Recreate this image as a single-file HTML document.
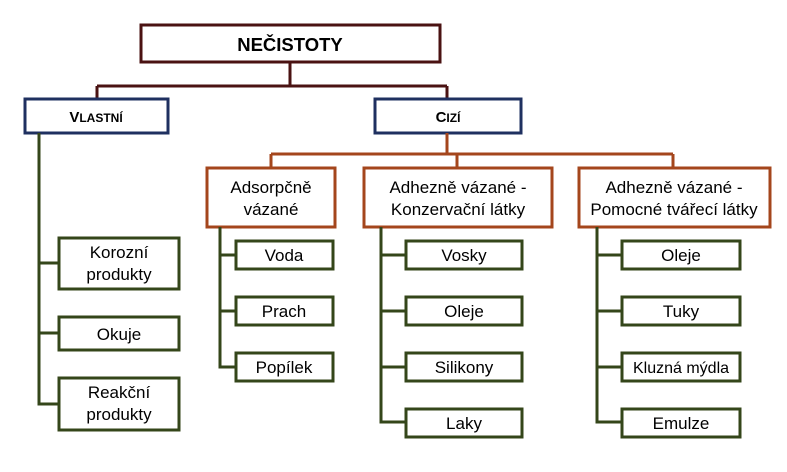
<!DOCTYPE html>
<html><head><meta charset="utf-8"><style>
html,body{margin:0;padding:0;background:#fff;}
svg{display:block;}
text{font-family:"Liberation Sans",sans-serif;fill:#000;text-anchor:middle;}
</style></head><body>
<svg width="787" height="472" viewBox="0 0 787 472">
<g fill="none" stroke-linejoin="miter">
<path d="M290 62 V86 M97 86 H447 M97 86 V98 M447 86 V98" stroke="#4a1212" stroke-width="3"/>
<rect x="141" y="25" width="299" height="37" fill="#fff" stroke="#4a1212" stroke-width="3"/>
<rect x="25" y="99" width="143" height="34" fill="#fff" stroke="#1f3060" stroke-width="3"/>
<rect x="375" y="99" width="146" height="34" fill="#fff" stroke="#1f3060" stroke-width="3"/>
<path d="M447 133 V154 M271 154 H673 M271 154 V168 M457 154 V168 M673 154 V168" stroke="#a4461c" stroke-width="3"/>
<rect x="207" y="168" width="128" height="59" fill="#fff" stroke="#a4461c" stroke-width="3"/>
<rect x="364" y="168" width="188" height="59" fill="#fff" stroke="#a4461c" stroke-width="3"/>
<rect x="579" y="168" width="191" height="59" fill="#fff" stroke="#a4461c" stroke-width="3"/>
<g stroke="#34461a" stroke-width="3">
<path d="M39 133 V404 H59 M39 263 H59 M39 333 H59"/>
<path d="M220 227 V367 H236 M220 255 H236 M220 311 H236"/>
<path d="M381 227 V422 H406 M381 255 H406 M381 311 H406 M381 367 H406"/>
<path d="M597 227 V422 H622 M597 255 H622 M597 311 H622 M597 367 H622"/>
<rect x="59" y="238" width="120" height="51" fill="#fff"/>
<rect x="59" y="317" width="120" height="33" fill="#fff"/>
<rect x="59" y="378" width="120" height="52" fill="#fff"/>
<rect x="236" y="241" width="97" height="28" fill="#fff"/>
<rect x="236" y="297" width="97" height="28" fill="#fff"/>
<rect x="236" y="353" width="97" height="28" fill="#fff"/>
<rect x="406" y="241" width="116" height="28" fill="#fff"/>
<rect x="406" y="297" width="116" height="28" fill="#fff"/>
<rect x="406" y="353" width="116" height="28" fill="#fff"/>
<rect x="406" y="409" width="116" height="28" fill="#fff"/>
<rect x="622" y="241" width="118" height="28" fill="#fff"/>
<rect x="622" y="297" width="118" height="28" fill="#fff"/>
<rect x="622" y="353" width="118" height="28" fill="#fff"/>
<rect x="622" y="409" width="118" height="28" fill="#fff"/>
</g>
</g>
<text x="290" y="51" font-size="18.5" font-weight="bold">NEČISTOTY</text>
<text x="96" y="122" font-size="15" font-weight="bold">V<tspan font-size="12">LASTNÍ</tspan></text>
<text x="448" y="122" font-size="15" font-weight="bold">C<tspan font-size="12">IZÍ</tspan></text>
<g font-size="17">
<text x="271" y="193">Adsorpčně</text><text x="271" y="215">vázané</text>
<text x="458" y="193">Adhezně vázané -</text><text x="458" y="215">Konzervační látky</text>
<text x="674" y="193">Adhezně vázané -</text><text x="674" y="215">Pomocné tvářecí  látky</text>
<text x="119" y="258">Korozní</text><text x="119" y="280">produkty</text>
<text x="119" y="340">Okuje</text>
<text x="119" y="398">Reakční</text><text x="119" y="420">produkty</text>
<text x="284" y="261">Voda</text><text x="284" y="317">Prach</text><text x="284" y="373">Popílek</text>
<text x="464" y="261">Vosky</text><text x="464" y="317">Oleje</text><text x="464" y="373">Silikony</text><text x="464" y="429">Laky</text>
<text x="681" y="261">Oleje</text><text x="681" y="317">Tuky</text><text x="681" y="373" font-size="16">Kluzná mýdla</text><text x="681" y="429">Emulze</text>
</g>
</svg>
</body></html>
